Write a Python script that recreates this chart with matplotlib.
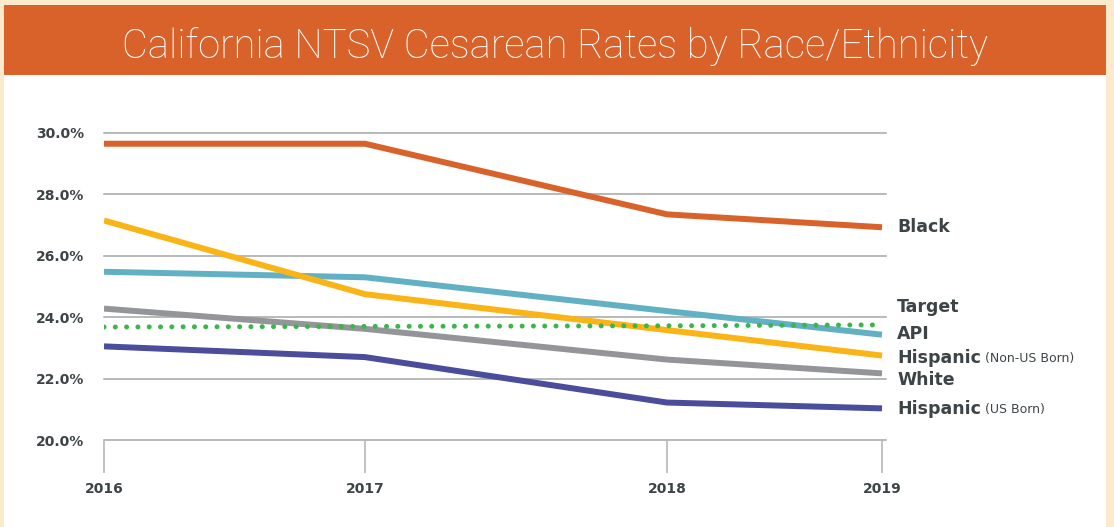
import matplotlib
matplotlib.use("Agg")
import matplotlib.pyplot as plt
from matplotlib.patches import Rectangle

# ---- data ---------------------------------------------------------------------
years = ["2016", "2017", "2018", "2019"]
year_pos = [0.0, 1.0, 2.157, 2.981]          # years are not evenly spaced in the source

black = [29.65, 29.65, 27.35, 26.93]
hisp_non_us = [27.15, 24.75, 23.58, 22.75]
api = [25.48, 25.30, 24.20, 23.43]
white = [24.28, 23.62, 22.62, 22.17]
hisp_us = [23.05, 22.70, 21.22, 21.03]
target = [23.68, 23.70, 23.72, 23.75]

yticks = [20, 22, 24, 26, 28, 30]

# ---- style ----------------------------------------------------------------------
BG = "#fde9cc"
ORANGE = "#d9622b"
TEXT = "#3d4447"
GRID = "#a3a5a7"
COLORS = {
    "black": "#d9622b",
    "hisp_non_us": "#fbb416",
    "api": "#62b0c4",
    "white": "#939598",
    "hisp_us": "#4a4d9b",
    "target": "#3cb54a",
}

W, H = 1114, 527
fig = plt.figure(figsize=(W / 100, H / 100), dpi=100, facecolor=BG)

# white panel and orange title banner
fig.add_artist(Rectangle((4 / W, 0), 1102 / W, (H - 75) / H, transform=fig.transFigure,
                         facecolor="white", edgecolor="none", zorder=0))
fig.add_artist(Rectangle((4 / W, (H - 75) / H), 1102 / W, 70 / H, transform=fig.transFigure,
                         facecolor=ORANGE, edgecolor="none", zorder=0))
fig.text(555 / W, (H - 47) / H, "California NTSV Cesarean Rates by Race/Ethnicity",
         ha="center", va="center", color="white", fontsize=28.8,
         family="Roboto", weight="light")

# plot area: 2016 at x=104, 2019 at x=882; 20% at y=440, 30% at y=133
x0, x1 = 104, 886
ax = fig.add_axes([x0 / W, (H - 440) / H, (x1 - x0) / W, 307 / H])
ax.set_facecolor("none")
ax.set_xlim(year_pos[0], year_pos[0] + (year_pos[-1] - year_pos[0]) * (x1 - x0) / (882 - x0))
ax.set_ylim(20, 30)

for s in ax.spines.values():
    s.set_visible(False)
for v in yticks:
    ax.axhline(v, color=GRID, lw=1.1, zorder=1, clip_on=False)

ax.set_yticks(yticks)
ax.set_yticklabels([f"{v:.1f}%" for v in yticks])
ax.tick_params(axis="y", length=0, pad=14, labelsize=10, labelcolor=TEXT)
for lbl in ax.get_yticklabels():
    lbl.set_fontweight("bold")

ax.set_xticks(year_pos)
ax.set_xticklabels(years)
ax.tick_params(axis="x", direction="out", length=24, width=1.2, color="#b5b7b9",
               pad=6, labelsize=10, labelcolor=TEXT)
for lbl in ax.get_xticklabels():
    lbl.set_fontweight("bold")

lw = 4.3
ax.plot(year_pos, black, color=COLORS["black"], lw=lw, solid_capstyle="butt", zorder=3)
ax.plot(year_pos, api, color=COLORS["api"], lw=lw, solid_capstyle="butt", zorder=3)
ax.plot(year_pos, hisp_non_us, color=COLORS["hisp_non_us"], lw=lw, solid_capstyle="butt", zorder=3)
ax.plot(year_pos, white, color=COLORS["white"], lw=lw, solid_capstyle="butt", zorder=3)
ax.plot(year_pos, hisp_us, color=COLORS["hisp_us"], lw=lw, solid_capstyle="butt", zorder=3)
ax.plot(year_pos, target, color=COLORS["target"], lw=3.6, ls=(0, (0.01, 2.25)),
        dash_capstyle="round", zorder=4)

# series labels at the right end
lab_x = 897
def label_y(py):
    return 30 - (py - 133) / 30.7

labels = [
    ("Black", None, 227),
    ("Target", None, 307),
    ("API", None, 334),
    ("Hispanic", "(Non-US Born)", 358),
    ("White", None, 380),
    ("Hispanic", "(US Born)", 409),
]
xl = ax.get_xlim()
for main, sub, py in labels:
    xd = xl[0] + (lab_x - x0) / (x1 - x0) * (xl[1] - xl[0])
    t = ax.text(xd, label_y(py), main, ha="left", va="center", fontsize=12.5,
                fontweight="bold", color=TEXT, clip_on=False)
    if sub:
        ax.annotate(" " + sub, xy=(1, 0), xycoords=t, xytext=(0, 1.5),
                    textcoords="offset points", ha="left", va="bottom",
                    fontsize=9, color=TEXT, annotation_clip=False)

fig.savefig("out.png", dpi=100, facecolor=BG)
